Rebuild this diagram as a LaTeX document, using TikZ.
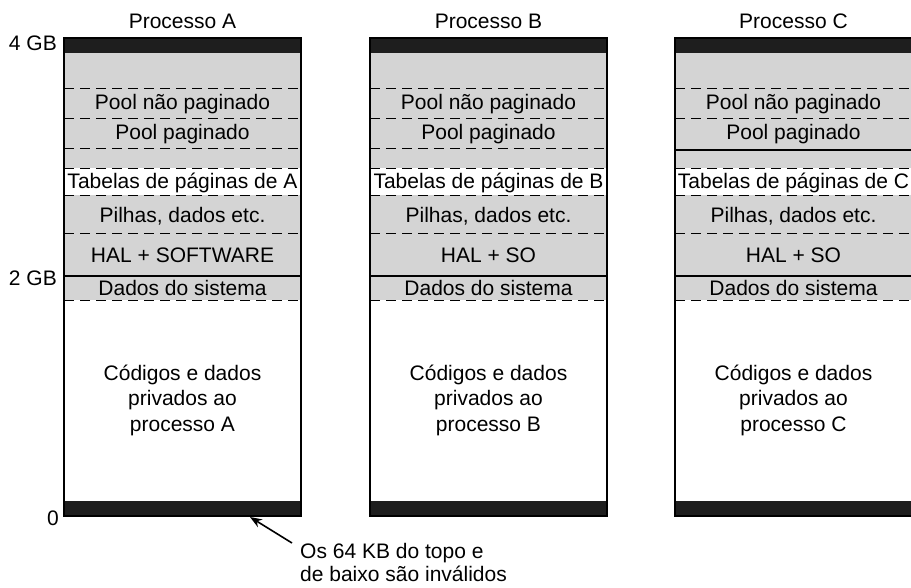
\documentclass[tikz,border=0pt]{standalone}
\usepackage{fontspec}
\setmainfont{Liberation Sans}
\usetikzlibrary{arrows.meta}
\definecolor{memgray}{RGB}{212,212,212}
\definecolor{barblack}{RGB}{30,30,30}
\tikzset{
  lbl/.style={font=\fontsize{21}{25.5}\selectfont, inner sep=0pt, anchor=base},
  sepline/.style={line width=1pt, dash pattern=on 10pt off 6pt},
  solidsep/.style={line width=1.4pt},
  frameline/.style={line width=1.4pt},
  barfill/.style={fill=barblack},
  regionfill/.style={fill=memgray},
  notearrow/.style={line width=1.6pt, -{Stealth[length=12pt,width=9pt]}},
}
% #1 left x, #2 letter, #3 HAL text, #4 style of line below Pool paginado, #5 its y
\newcommand{\proccol}[5]{%
  \begin{scope}[xshift=#1pt]
    \fill[regionfill] (0,53) rectangle (237,168);
    \fill[regionfill] (0,195) rectangle (237,300);
    \fill[barfill] (0,38) rectangle (237,53);
    \fill[barfill] (0,501) rectangle (237,516);
    \foreach \yy in {88,118,168,195,233,300}{\draw[sepline] (0,\yy) -- (237,\yy);}
    \draw[#4] (0,#5) -- (237,#5);
    \draw[solidsep] (0,276) -- (237,276);
    \draw[frameline] (0,38) rectangle (237,516);
    \node[lbl] (title#2) at (118.5,28) {Processo #2};
    \node[lbl] (pnp#2) at (118.5,109) {Pool não paginado};
    \node[lbl] (pp#2) at (118.5,139) {Pool paginado};
    \node[lbl] (tab#2) at (118.5,188) {Tabelas de páginas de #2};
    \node[lbl] (pil#2) at (118.5,222) {Pilhas, dados etc.};
    \node[lbl] (hal#2) at (118.5,262) {#3};
    \node[lbl] (dad#2) at (118.5,295) {Dados do sistema};
    \node[lbl, align=center, anchor=base] (cod#2) at (118.5,431)
      {Códigos e dados\\privados ao\\processo #2};
  \end{scope}%
}
\begin{document}
\begin{tikzpicture}[x=1pt,y=-1pt]
  \useasboundingbox (0,0) rectangle (911,587);
  \proccol{64}{A}{HAL + SOFTWARE}{sepline}{148}
  \proccol{370}{B}{HAL + SO}{sepline}{148}
  \proccol{675}{C}{HAL + SO}{solidsep}{150}
  \node[lbl, anchor=base east] (gb4) at (57,50) {4 GB};
  \node[lbl, anchor=base east] (gb2) at (57,285) {2 GB};
  \node[lbl, anchor=base east] (gb0) at (59,525) {0};
  \node[lbl, font=\fontsize{21}{23}\selectfont, anchor=base west, align=left] (note) at (300,581)
    {Os 64 KB do topo e\\de baixo são inválidos};
  \coordinate (tail) at (292,543);
  \coordinate (head) at (250,517);
  \draw[notearrow] (tail) -- (head);
\end{tikzpicture}
\end{document}
